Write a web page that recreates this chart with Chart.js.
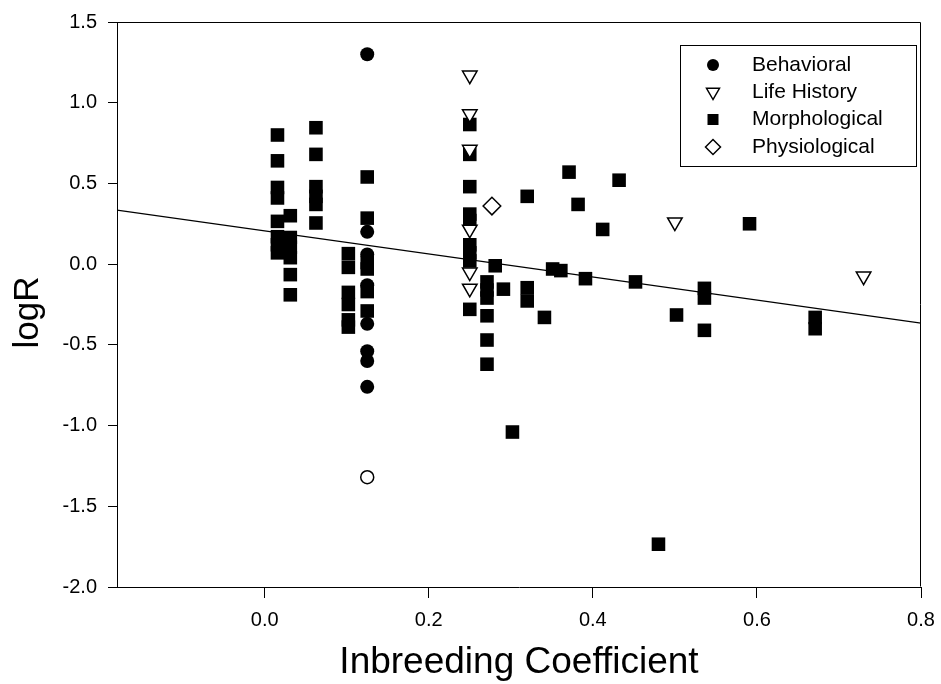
<!DOCTYPE html>
<html>
<head>
<meta charset="utf-8">
<script src="https://cdn.jsdelivr.net/npm/chart.js@4.4.1/dist/chart.umd.min.js"></script>
<style>
html,body{margin:0;padding:0;background:#fff;}
#wrap{width:941px;height:684px;}
</style>
</head>
<body>
<div id="wrap"><canvas id="c" width="941" height="684"></canvas></div>
<script>
// ---- data ----
const xTicks = [0.0, 0.2, 0.4, 0.6, 0.8];
const yTicks = [-2.0, -1.5, -1.0, -0.5, 0.0, 0.5, 1.0, 1.5];
const seriesNames = ['Behavioral', 'Life History', 'Morphological', 'Physiological'];
const xTitle = 'Inbreeding Coefficient';
const yTitle = 'logR';

const behavioralX = [0.125, 0.125, 0.125, 0.125, 0.125, 0.125, 0.125, 0.125];
const behavioralY = [1.30, 0.20, 0.06, -0.13, -0.37, -0.54, -0.60, -0.76];

const lifeHistoryX = [0.25, 0.25, 0.25, 0.25, 0.25, 0.25, 0.50, 0.73];
const lifeHistoryY = [1.17, 0.93, 0.71, 0.215, -0.05, -0.15, 0.26, -0.075];

const morphologicalX = [
  0.0156, 0.0156, 0.0156, 0.0156, 0.0156, 0.0156, 0.0156, 0.0156,
  0.03125, 0.03125, 0.03125, 0.03125, 0.03125, 0.03125,
  0.0625, 0.0625, 0.0625, 0.0625, 0.0625, 0.0625,
  0.102, 0.102, 0.102, 0.102, 0.102, 0.102,
  0.125, 0.125, 0.125, 0.125, 0.125, 0.125,
  0.25, 0.25, 0.25, 0.25, 0.25, 0.25, 0.25, 0.25, 0.25,
  0.271, 0.271, 0.271, 0.271, 0.271, 0.271,
  0.281, 0.291, 0.302, 0.32, 0.32, 0.32, 0.341, 0.351, 0.361, 0.371,
  0.382, 0.391, 0.412, 0.432, 0.452, 0.48, 0.502, 0.536, 0.536, 0.536,
  0.591, 0.671, 0.671
];
const morphologicalY = [
  0.80, 0.64, 0.475, 0.41, 0.265, 0.17, 0.12, 0.07,
  0.30, 0.165, 0.105, 0.04, -0.065, -0.19,
  0.845, 0.68, 0.48, 0.42, 0.37, 0.255,
  0.065, -0.02, -0.175, -0.25, -0.345, -0.39,
  0.54, 0.285, 0.01, -0.03, -0.17, -0.29,
  0.865, 0.68, 0.48, 0.31, 0.27, 0.12, 0.07, 0.02, -0.28,
  -0.11, -0.16, -0.21, -0.32, -0.47, -0.62,
  -0.01, -0.155, -1.04, 0.42, -0.146, -0.228, -0.33, -0.03, -0.04, 0.57,
  0.37, -0.09, 0.215, 0.52, -0.11, -1.735, -0.315, -0.15, -0.21, -0.41,
  0.25, -0.33, -0.40
];

const physiologicalX = [0.277];
const physiologicalY = [0.36];

const openCircleX = [0.125];
const openCircleY = [-1.32];

const fitLineX = [-0.18, 0.8];
const fitLineY = [0.335, -0.366];

// ---- build ----
const FONT = "'Liberation Sans', Arial, sans-serif";
const pts = (xs, ys) => xs.map((x, i) => ({x: x, y: ys[i]}));

const datasets = [
  {type: 'line', label: 'fit', data: pts(fitLineX, fitLineY), borderColor: '#000', borderWidth: 1.3,
   pointRadius: 0, fill: false, order: 10},
  {label: seriesNames[0], data: pts(behavioralX, behavioralY), pointStyle: 'circle', pointRadius: 7,
   backgroundColor: '#000', borderColor: '#000', borderWidth: 0, order: 1},
  {label: 'open', data: pts(openCircleX, openCircleY), pointStyle: 'circle', pointRadius: 6.5,
   backgroundColor: '#fff', borderColor: '#000', borderWidth: 1.5, order: 1},
  {label: seriesNames[2], data: pts(morphologicalX, morphologicalY), pointStyle: 'rect', pointRadius: 9.6,
   backgroundColor: '#000', borderColor: '#000', borderWidth: 0, order: 3},
  {label: seriesNames[1], data: pts(lifeHistoryX, lifeHistoryY), pointStyle: 'triangle', pointRotation: 180,
   pointRadius: 8.4, backgroundColor: '#fff', borderColor: '#000', borderWidth: 1.5, order: 2},
  {label: seriesNames[3], data: pts(physiologicalX, physiologicalY), pointStyle: 'rectRot', pointRadius: 8.8,
   backgroundColor: '#fff', borderColor: '#000', borderWidth: 1.5, order: 2}
];

const framePlugin = {
  id: 'frame',
  afterDraw(chart) {
    const {ctx, chartArea: a} = chart;
    ctx.save();
    ctx.strokeStyle = '#000';
    ctx.lineWidth = 1;
    ctx.beginPath();
    const l = Math.round(a.left) + 0.5, r = Math.round(a.right) - 0.5;
    const t = Math.round(a.top) + 0.5, b = Math.round(a.bottom) - 0.5;
    ctx.moveTo(l, t); ctx.lineTo(r, t); ctx.lineTo(r, b);
    ctx.stroke();
    // y axis title, centred slightly below the middle of the axis as in the reference
    const cy = (a.top + a.bottom) / 2 + 8;
    ctx.translate(28, cy);
    ctx.rotate(-Math.PI / 2);
    ctx.fillStyle = '#000';
    ctx.font = '35px ' + FONT;
    ctx.textAlign = 'center';
    ctx.textBaseline = 'middle';
    ctx.fillText(yTitle, 0, 0);
    ctx.restore();
  }
};

const legendPlugin = {
  id: 'boxLegend',
  afterDraw(chart) {
    const {ctx} = chart;
    const bx = 680.5, by = 45.5, bw = 236, bh = 121;
    ctx.save();
    ctx.fillStyle = '#fff';
    ctx.fillRect(bx, by, bw, bh);
    ctx.strokeStyle = '#000';
    ctx.lineWidth = 1;
    ctx.strokeRect(bx, by, bw, bh);
    const mx = 713, tx = 752;
    const ys = [65, 92, 119.5, 147];
    ctx.font = '21px ' + FONT;
    ctx.textBaseline = 'middle';
    ctx.textAlign = 'left';
    seriesNames.forEach((name, i) => {
      const y = ys[i];
      ctx.beginPath();
      ctx.lineWidth = 1.5;
      if (i === 0) {
        ctx.arc(mx, y, 6, 0, Math.PI * 2);
        ctx.fillStyle = '#000'; ctx.fill();
      } else if (i === 1) {
        const r = 7.5;
        ctx.moveTo(mx, y + r);
        ctx.lineTo(mx - r * 0.866, y - r / 2);
        ctx.lineTo(mx + r * 0.866, y - r / 2);
        ctx.closePath();
        ctx.fillStyle = '#fff'; ctx.fill(); ctx.stroke();
      } else if (i === 2) {
        ctx.rect(mx - 5.5, y - 5.5, 11, 11);
        ctx.fillStyle = '#000'; ctx.fill();
      } else {
        const r = 7.5;
        ctx.moveTo(mx - r, y); ctx.lineTo(mx, y - r); ctx.lineTo(mx + r, y); ctx.lineTo(mx, y + r);
        ctx.closePath();
        ctx.fillStyle = '#fff'; ctx.fill(); ctx.stroke();
      }
      ctx.fillStyle = '#000';
      ctx.fillText(name, tx, y);
    });
    ctx.restore();
  }
};

new Chart(document.getElementById('c'), {
  type: 'scatter',
  data: {datasets: datasets},
  plugins: [framePlugin, legendPlugin],
  options: {
    responsive: false,
    animation: false,
    devicePixelRatio: 1,
    layout: {padding: {top: 22, right: 20, bottom: 0, left: 0}},
    plugins: {legend: {display: false}, tooltip: {enabled: false}},
    scales: {
      x: {
        type: 'linear', min: -0.18, max: 0.8,
        afterBuildTicks: s => { s.ticks = xTicks.map(v => ({value: v})); },
        afterFit: s => { s.height = 97; s.paddingRight = 0; s.paddingLeft = 0; },
        ticks: {callback: v => Number(v).toFixed(1), color: '#000', font: {family: FONT, size: 20}, padding: 10, maxRotation: 0},
        grid: {display: true, drawOnChartArea: false, drawTicks: true, tickLength: 11, color: '#000', lineWidth: 1},
        border: {display: true, color: '#000', width: 1},
        title: {display: true, text: xTitle, color: '#000',
                font: {family: FONT, size: 37, lineHeight: 1.1}, padding: {top: 0, bottom: 1}}
      },
      y: {
        type: 'linear', min: -2.0, max: 1.5,
        afterBuildTicks: s => { s.ticks = yTicks.map(v => ({value: v})); },
        afterFit: s => { s.width = 117; s.paddingTop = 0; s.paddingBottom = 0; },
        ticks: {callback: v => Number(v).toFixed(1), color: '#000', font: {family: FONT, size: 20}, padding: 11},
        grid: {display: true, drawOnChartArea: false, drawTicks: true, tickLength: 9, color: '#000', lineWidth: 1},
        border: {display: true, color: '#000', width: 1},
        title: {display: false}
      }
    }
  }
});
</script>
</body>
</html>
